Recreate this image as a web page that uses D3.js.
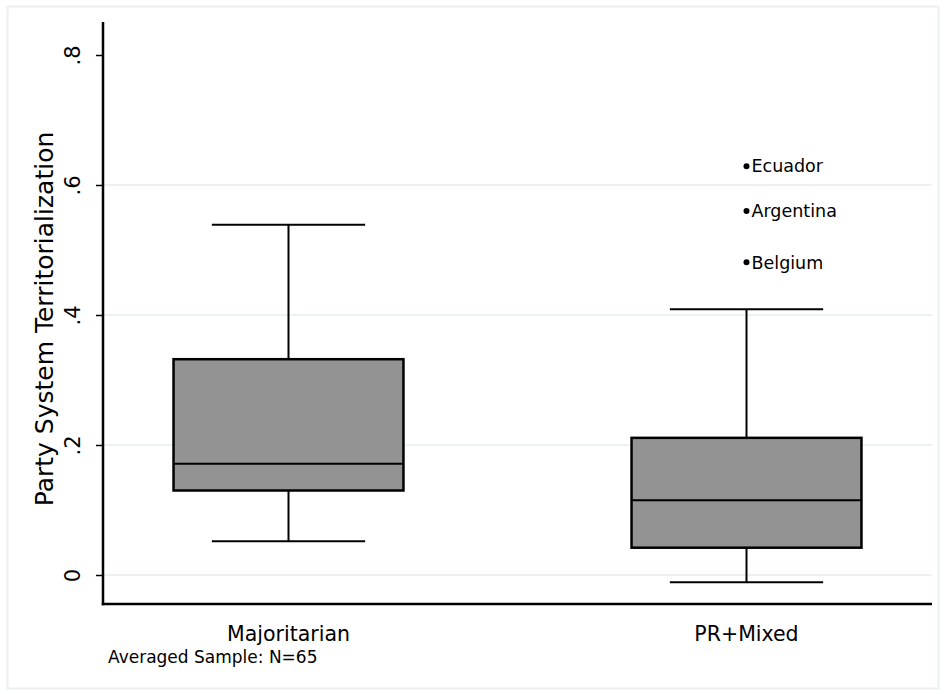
<!DOCTYPE html>
<html>
<head>
<meta charset="utf-8">
<script src="https://cdn.jsdelivr.net/npm/d3@7/dist/d3.min.js"></script>
<style>
  html, body { margin: 0; padding: 0; background: #fff; }
  svg { display: block; }
  text { font-family: "DejaVu Sans", "Liberation Sans", sans-serif; fill: #000; }
</style>
</head>
<body>
<svg id="chart" width="946" height="694"></svg>
<script>
// Electoral system groups
const categories = ["Majoritarian", "PR+Mixed"];
// Box plot summaries per group
const lowerWhisker = [0.052, -0.011];
const quartile1    = [0.130, 0.042];
const medians      = [0.171, 0.115];
const quartile3    = [0.332, 0.211];
const upperWhisker = [0.539, 0.409];
// Outside values (PR+Mixed)
const outlierGroup  = ["PR+Mixed", "PR+Mixed", "PR+Mixed"];
const outlierNames  = ["Ecuador", "Argentina", "Belgium"];
const outlierValues = [0.629, 0.560, 0.481];
// Y axis ticks
const yTicks = [0, 0.2, 0.4, 0.6, 0.8];
const yTickLabels = ["0", ".2", ".4", ".6", ".8"];

const svg = d3.select("#chart");
const W = 946, H = 694;
const plot = { left: 103, right: 932, top: 22, bottom: 604 };

// Outer graph frame
svg.append("rect")
  .attr("x", 7.5).attr("y", 6.5)
  .attr("width", W - 15).attr("height", H - 12)
  .attr("fill", "#fff")
  .attr("stroke", "#e8f0f0").attr("stroke-width", 2);

const y = d3.scaleLinear().domain([0, 0.8]).range([575, 55]);
const x = d3.scalePoint().domain(categories).range([plot.left, plot.right]).padding(0.405);
const boxW = x.step() * 0.502;
const capW = boxW * 2 / 3;

// Horizontal grid lines
svg.append("g").selectAll("line")
  .data(yTicks.filter(t => t < 0.8))
  .join("line")
  .attr("x1", plot.left).attr("x2", plot.right)
  .attr("y1", d => y(d)).attr("y2", d => y(d))
  .attr("stroke", "#eaf2f3").attr("stroke-width", 2);

// Y axis
const yAxis = d3.axisLeft(y).tickValues(yTicks)
  .tickFormat((d, i) => yTickLabels[i]).tickSize(7).tickPadding(0);
const gy = svg.append("g").attr("transform", `translate(${plot.left},0)`).call(yAxis);
gy.select(".domain").remove();
gy.selectAll(".tick line").attr("stroke", "#000").attr("stroke-width", 1.5);
gy.selectAll(".tick text")
  .attr("font-size", 21)
  .attr("text-anchor", "middle")
  .attr("x", 0).attr("dy", 0)
  .attr("transform", "translate(-23,0) rotate(-90)");
svg.append("line")
  .attr("x1", plot.left).attr("x2", plot.left)
  .attr("y1", plot.top).attr("y2", plot.bottom + 1.25)
  .attr("stroke", "#000").attr("stroke-width", 2.5);

// X axis
svg.append("line")
  .attr("x1", plot.left - 1.25).attr("x2", plot.right)
  .attr("y1", plot.bottom).attr("y2", plot.bottom)
  .attr("stroke", "#000").attr("stroke-width", 2.5);
svg.append("g").selectAll("text")
  .data(categories)
  .join("text")
  .attr("x", d => x(d)).attr("y", 641)
  .attr("text-anchor", "middle")
  .attr("font-size", 20.5)
  .text(d => d);

// Axis title
svg.append("text")
  .attr("transform", `translate(53,${(plot.top + plot.bottom) / 2 + 6}) rotate(-90)`)
  .attr("text-anchor", "middle")
  .attr("font-size", 25)
  .text("Party System Territorialization");

// Note
svg.append("text")
  .attr("x", 108).attr("y", 663)
  .attr("font-size", 17)
  .text("Averaged Sample: N=65");

// Boxes
const boxes = svg.append("g").selectAll("g")
  .data(categories.map((c, i) => ({
    c, lo: lowerWhisker[i], q1: quartile1[i], med: medians[i], q3: quartile3[i], hi: upperWhisker[i]
  })))
  .join("g");

boxes.append("line")
  .attr("x1", d => x(d.c)).attr("x2", d => x(d.c))
  .attr("y1", d => y(d.hi)).attr("y2", d => y(d.q3))
  .attr("stroke", "#000").attr("stroke-width", 2);
boxes.append("line")
  .attr("x1", d => x(d.c)).attr("x2", d => x(d.c))
  .attr("y1", d => y(d.q1)).attr("y2", d => y(d.lo))
  .attr("stroke", "#000").attr("stroke-width", 2);
boxes.append("line")
  .attr("x1", d => x(d.c) - capW / 2).attr("x2", d => x(d.c) + capW / 2)
  .attr("y1", d => y(d.hi)).attr("y2", d => y(d.hi))
  .attr("stroke", "#000").attr("stroke-width", 2);
boxes.append("line")
  .attr("x1", d => x(d.c) - capW / 2).attr("x2", d => x(d.c) + capW / 2)
  .attr("y1", d => y(d.lo)).attr("y2", d => y(d.lo))
  .attr("stroke", "#000").attr("stroke-width", 2);
boxes.append("rect")
  .attr("x", d => x(d.c) - boxW / 2)
  .attr("width", boxW)
  .attr("y", d => y(d.q3))
  .attr("height", d => y(d.q1) - y(d.q3))
  .attr("fill", "#939393")
  .attr("stroke", "#000").attr("stroke-width", 2.5);
boxes.append("line")
  .attr("x1", d => x(d.c) - boxW / 2).attr("x2", d => x(d.c) + boxW / 2)
  .attr("y1", d => y(d.med)).attr("y2", d => y(d.med))
  .attr("stroke", "#000").attr("stroke-width", 2);

// Outside values with labels
const outs = svg.append("g").selectAll("g")
  .data(outlierNames.map((n, i) => ({ n, g: outlierGroup[i], v: outlierValues[i] })))
  .join("g");
outs.append("circle")
  .attr("cx", d => x(d.g)).attr("cy", d => y(d.v))
  .attr("r", 3).attr("fill", "#000");
outs.append("text")
  .attr("x", d => x(d.g) + 5).attr("y", d => y(d.v))
  .attr("dy", "0.36em")
  .attr("font-size", 17.5)
  .text(d => d.n);
</script>
</body>
</html>
